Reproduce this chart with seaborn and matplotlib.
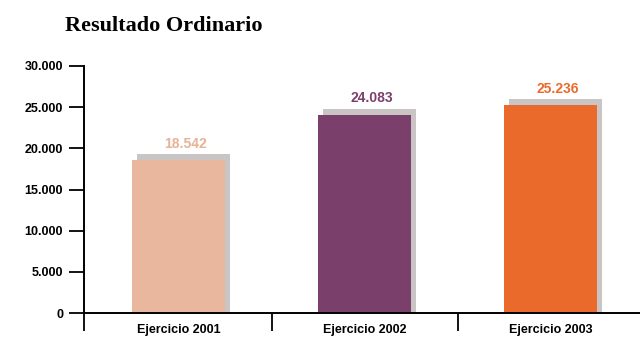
import matplotlib
matplotlib.use("Agg")
import matplotlib.pyplot as plt
import matplotlib.patheffects as pe
import seaborn as sns

# ---- data ----
categories = ["Ejercicio 2001", "Ejercicio 2002", "Ejercicio 2003"]
values = [18542, 24083, 25236]
value_labels = ["18.542", "24.083", "25.236"]
bar_colors = ["#e9b79d", "#7b3f6c", "#ea6a2c"]
label_colors = ["#e6b397", "#7b3f6c", "#ea6a2c"]
yticks = [0, 5000, 10000, 15000, 20000, 25000, 30000]
ytick_labels = ["0", "5.000", "10.000", "15.000", "20.000", "25.000", "30.000"]
title = "Resultado Ordinario"

sns.set_theme(style="white")
plt.rcParams["font.family"] = ["Liberation Sans Narrow", "Liberation Sans", "DejaVu Sans"]
plt.rcParams["text.color"] = "black"
plt.rcParams["xtick.color"] = "black"
plt.rcParams["ytick.color"] = "black"

fig = plt.figure(figsize=(6.4, 3.42), dpi=100)
ax = fig.add_axes([84 / 640, 1 - 313 / 342, 1 - 84 / 640, (313 - 66) / 342])

sns.barplot(x=categories, y=values, hue=categories, palette=bar_colors,
            width=0.5, legend=False, ax=ax, saturation=1, linewidth=0)

shadow = [pe.SimplePatchShadow(offset=(3.5, 4.3), shadow_rgbFace="#c9c5c5", alpha=1.0),
          pe.SimplePatchShadow(offset=(3.5, 0), shadow_rgbFace="#c9c5c5", alpha=1.0),
          pe.Normal()]
for p in ax.patches:
    p.set_path_effects(shadow)

for i, (v, lab) in enumerate(zip(values, value_labels)):
    ax.annotate(lab, (i, v), xytext=(5, 7), textcoords="offset points",
                ha="center", va="bottom", fontsize=10, fontweight="bold",
                color=label_colors[i])

ax.set_xlim(-0.51, 2.48)
ax.set_ylim(0, 30000)
ax.set_yticks(yticks)
ax.set_yticklabels(ytick_labels)
ax.tick_params(axis="y", length=11, width=1.3, color="black", labelcolor="black",
               direction="out", pad=4, labelsize=9, left=True)
for t in ax.get_yticklabels():
    t.set_fontweight("bold")

ax.set_xticks([0, 1, 2])
ax.set_xticklabels(categories)
ax.set_xticks([-0.51, 0.5, 1.5], minor=True)
ax.tick_params(axis="x", which="major", length=0, pad=8, labelsize=9, labelcolor="black")
ax.tick_params(axis="x", which="minor", length=13, width=1.3, color="black",
               direction="out", bottom=True)
for t in ax.get_xticklabels():
    t.set_fontweight("bold")

for s in ["top", "right"]:
    ax.spines[s].set_visible(False)
for s in ["left", "bottom"]:
    ax.spines[s].set_color("black")
    ax.spines[s].set_linewidth(1.4)
ax.spines["bottom"].set_zorder(5)

ax.set_xlabel("")
ax.set_ylabel("")

fig.text(65 / 640, 1 - 26 / 342, title, ha="left", va="center", fontsize=16,
         fontweight="bold", color="black", family=["Liberation Serif", "DejaVu Serif"])

fig.savefig("out.png", dpi=100)
